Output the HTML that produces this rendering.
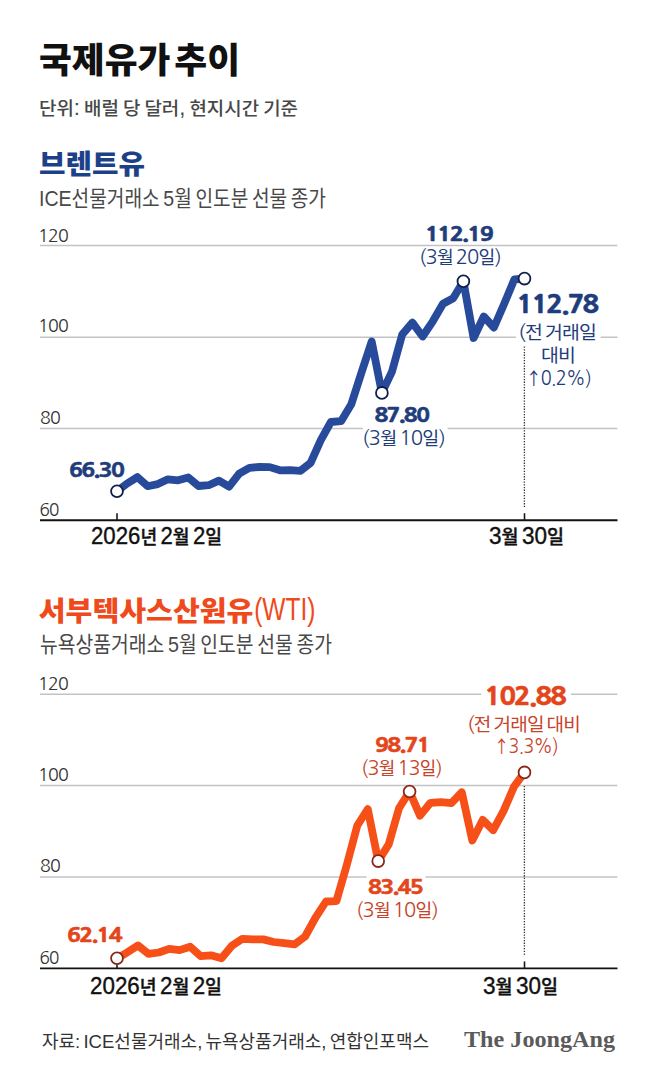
<!DOCTYPE html>
<html lang="ko"><head><meta charset="utf-8"><title>국제유가 추이</title>
<style>html,body{margin:0;padding:0;background:#fff;width:658px;height:1081px;overflow:hidden}svg{display:block}</style>
</head><body>
<svg width="658" height="1081" viewBox="0 0 658 1081"><rect width="658" height="1081" fill="#fff"/><line x1="40" y1="245.6" x2="617.5" y2="245.6" stroke="#c3c3c3" stroke-width="1.5"/><line x1="40" y1="337.3" x2="617.5" y2="337.3" stroke="#c3c3c3" stroke-width="1.5"/><line x1="40" y1="428.6" x2="617.5" y2="428.6" stroke="#c3c3c3" stroke-width="1.5"/><line x1="40" y1="694.3" x2="617.5" y2="694.3" stroke="#c3c3c3" stroke-width="1.5"/><line x1="40" y1="785.5" x2="617.5" y2="785.5" stroke="#c3c3c3" stroke-width="1.5"/><line x1="40" y1="876.9" x2="617.5" y2="876.9" stroke="#c3c3c3" stroke-width="1.5"/><line x1="524.4" y1="346.5" x2="524.4" y2="507.5" stroke="#333" stroke-width="1.3" stroke-dasharray="1.3 1.4"/><line x1="524.4" y1="786" x2="524.4" y2="956" stroke="#333" stroke-width="1.3" stroke-dasharray="1.3 1.4"/><line x1="40" y1="520.2" x2="617.5" y2="520.2" stroke="#111" stroke-width="1.9"/><line x1="117" y1="513.2" x2="117" y2="520.2" stroke="#1a1a1a" stroke-width="1.6"/><line x1="524.5" y1="513.2" x2="524.5" y2="520.2" stroke="#1a1a1a" stroke-width="1.6"/><line x1="40" y1="968.4" x2="617.5" y2="968.4" stroke="#111" stroke-width="1.9"/><line x1="117" y1="961.4" x2="117" y2="968.4" stroke="#1a1a1a" stroke-width="1.6"/><line x1="524.5" y1="961.4" x2="524.5" y2="968.4" stroke="#1a1a1a" stroke-width="1.6"/><rect x="516" y="335.5" width="84.7" height="4.0" fill="#fff"/><rect x="481.3" y="692.3" width="89.7" height="4.0" fill="#fff"/><rect x="362.8" y="426.8" width="84.8" height="3.8" fill="#fff"/><rect x="366.5" y="875" width="59.0" height="4.0" fill="#fff"/><text id="title" x="39.0" y="73.2" textLength="201.0" lengthAdjust="spacingAndGlyphs" style="font-family:'Liberation Sans','Noto Sans CJK KR',sans-serif;font-size:41.11px;font-weight:900;fill:#111;word-spacing:-7.5px"><tspan style="font-size:35.35px">국제유가</tspan> <tspan style="font-size:35.35px">추이</tspan></text><text id="sub" x="39.0" y="115.1" textLength="259.0" lengthAdjust="spacingAndGlyphs" style="font-family:'Liberation Sans','Noto Sans CJK KR',sans-serif;font-size:21.71px;font-weight:500;fill:#484848;word-spacing:-2px"><tspan style="font-size:18.67px">단위</tspan>: <tspan style="font-size:18.67px">배럴</tspan> <tspan style="font-size:18.67px">당</tspan> <tspan style="font-size:18.67px">달러</tspan>, <tspan style="font-size:18.67px">현지시간</tspan> <tspan style="font-size:18.67px">기준</tspan></text><text id="brent" x="39.0" y="173.85" textLength="106.0" lengthAdjust="spacingAndGlyphs" style="font-family:'Liberation Sans','Noto Sans CJK KR',sans-serif;font-size:31.94px;font-weight:900;fill:#1d4189"><tspan style="font-size:27.47px">브렌트유</tspan></text><text id="brentsub" x="39.0" y="205.6" textLength="287.0" lengthAdjust="spacingAndGlyphs" style="font-family:'Liberation Sans','Noto Sans CJK KR',sans-serif;font-size:21.5px;font-weight:400;fill:#484848;word-spacing:-2px">ICE<tspan style="font-size:21.07px">선물거래소</tspan> 5<tspan style="font-size:21.07px">월</tspan> <tspan style="font-size:21.07px">인도분</tspan> <tspan style="font-size:21.07px">선물</tspan> <tspan style="font-size:21.07px">종가</tspan></text><text id="b120" x="38.0" y="241.8" textLength="30.0" lengthAdjust="spacingAndGlyphs" style="font-family:'NanumGothic','Liberation Sans',sans-serif;font-size:17.8px;font-weight:400;fill:#333333;letter-spacing:-0.8px">120</text><text id="b100" x="38.0" y="332.0" textLength="30.0" lengthAdjust="spacingAndGlyphs" style="font-family:'NanumGothic','Liberation Sans',sans-serif;font-size:17.8px;font-weight:400;fill:#333333;letter-spacing:-0.8px">100</text><text id="b80" x="40.0" y="424.0" textLength="20.0" lengthAdjust="spacingAndGlyphs" style="font-family:'NanumGothic','Liberation Sans',sans-serif;font-size:17.8px;font-weight:400;fill:#333333;letter-spacing:-0.8px">80</text><text id="b60" x="39.4" y="516.3" textLength="19.2" lengthAdjust="spacingAndGlyphs" style="font-family:'NanumGothic','Liberation Sans',sans-serif;font-size:17.8px;font-weight:400;fill:#333333;letter-spacing:-0.8px">60</text><text id="bx1" x="91.0" y="544.45" textLength="131.0" lengthAdjust="spacingAndGlyphs" style="font-family:'Liberation Sans','Noto Sans CJK KR',sans-serif;font-size:23.4px;font-weight:500;fill:#111111;stroke:#111111;stroke-width:0.4px;stroke-linejoin:round;word-spacing:-3px">2026<tspan style="font-size:19.19px">년</tspan> 2<tspan style="font-size:19.19px">월</tspan> 2<tspan style="font-size:19.19px">일</tspan></text><text id="bx2" x="489.0" y="544.4" textLength="75.0" lengthAdjust="spacingAndGlyphs" style="font-family:'Liberation Sans','Noto Sans CJK KR',sans-serif;font-size:23.4px;font-weight:500;fill:#111111;stroke:#111111;stroke-width:0.4px;stroke-linejoin:round;word-spacing:-3px">3<tspan style="font-size:19.19px">월</tspan> 30<tspan style="font-size:19.19px">일</tspan></text><text id="b6630" x="69" y="476.55" textLength="54.0" lengthAdjust="spacingAndGlyphs" style="font-family:'NanumGothic','Liberation Sans',sans-serif;font-size:19.6px;font-weight:800;fill:#1f3d7c;stroke:#1f3d7c;stroke-width:0.5px;stroke-linejoin:round;letter-spacing:-1.5px">66.30</text><text id="b11219" x="425.0" y="240.8" textLength="67.0" lengthAdjust="spacingAndGlyphs" style="font-family:'NanumGothic','Liberation Sans',sans-serif;font-size:19.6px;font-weight:800;fill:#1f3d7c;stroke:#1f3d7c;stroke-width:0.5px;stroke-linejoin:round;letter-spacing:-1.5px">112.19</text><text id="b0320" x="419.0" y="264.3" textLength="82.0" lengthAdjust="spacingAndGlyphs" style="font-family:'NanumGothic','Liberation Sans',sans-serif;font-size:20px;font-weight:400;fill:#1f3d7c;word-spacing:-2px;letter-spacing:-0.8px">(3<tspan style="font-size:18.00px;font-family:'Noto Sans CJK KR',sans-serif">월</tspan> 20<tspan style="font-size:18.00px;font-family:'Noto Sans CJK KR',sans-serif">일</tspan>)</text><text id="b8780" x="374.5" y="421.95" textLength="53.5" lengthAdjust="spacingAndGlyphs" style="font-family:'NanumGothic','Liberation Sans',sans-serif;font-size:19.6px;font-weight:800;fill:#1f3d7c;stroke:#1f3d7c;stroke-width:0.5px;stroke-linejoin:round;letter-spacing:-1.5px">87.80</text><text id="b0310" x="362.0" y="444.55" textLength="83.0" lengthAdjust="spacingAndGlyphs" style="font-family:'NanumGothic','Liberation Sans',sans-serif;font-size:20px;font-weight:400;fill:#1f3d7c;word-spacing:-2px;letter-spacing:-0.8px">(3<tspan style="font-size:18.00px;font-family:'Noto Sans CJK KR',sans-serif">월</tspan> 10<tspan style="font-size:18.00px;font-family:'Noto Sans CJK KR',sans-serif">일</tspan>)</text><text id="b11278" x="516.5" y="312.8" textLength="81.0" lengthAdjust="spacingAndGlyphs" style="font-family:'NanumGothic','Liberation Sans',sans-serif;font-size:23.6px;font-weight:800;fill:#1f3d7c;stroke:#1f3d7c;stroke-width:0.5px;stroke-linejoin:round;letter-spacing:-1.5px">112.78</text><text id="bcmp1" x="518" y="339.1" textLength="78.0" lengthAdjust="spacingAndGlyphs" style="font-family:'NanumGothic','Liberation Sans',sans-serif;font-size:20px;font-weight:400;fill:#1f3d7c;word-spacing:-2px;letter-spacing:-0.8px">(<tspan style="font-size:18.00px;font-family:'Noto Sans CJK KR',sans-serif">전</tspan> <tspan style="font-size:18.00px;font-family:'Noto Sans CJK KR',sans-serif">거래일</tspan></text><text id="bcmp2" x="541.0" y="362.2" textLength="34.0" lengthAdjust="spacingAndGlyphs" style="font-family:'NanumGothic','Liberation Sans',sans-serif;font-size:20px;font-weight:400;fill:#1f3d7c;letter-spacing:-0.8px"><tspan style="font-size:18.00px;font-family:'Noto Sans CJK KR',sans-serif">대비</tspan></text><text id="bcmp3" x="526.0" y="384.6" textLength="65.0" lengthAdjust="spacingAndGlyphs" style="font-family:'NanumGothic','Liberation Sans',sans-serif;font-size:20px;font-weight:400;fill:#1f3d7c;letter-spacing:-0.8px"><tspan style="font-family:'Noto Sans CJK KR',sans-serif;font-size:17.20px">↑</tspan>0.2%)</text><text id="wti" x="38.8" y="620.5" textLength="214.6" lengthAdjust="spacingAndGlyphs" style="font-family:'Liberation Sans','Noto Sans CJK KR',sans-serif;font-size:27.33px;font-weight:900;fill:#ef4a1c"><tspan style="font-size:27.33px">서부텍사스산원유</tspan></text><text id="wti2" x="254.2" y="620.4" textLength="61.2" lengthAdjust="spacingAndGlyphs" style="font-family:'Liberation Sans','Noto Sans CJK KR',sans-serif;font-size:30.6px;font-weight:400;fill:#ef4a1c">(WTI)</text><text id="wtisub" x="40.0" y="651.95" textLength="292.0" lengthAdjust="spacingAndGlyphs" style="font-family:'Liberation Sans','Noto Sans CJK KR',sans-serif;font-size:21.5px;font-weight:400;fill:#484848;word-spacing:-2px"><tspan style="font-size:21.07px">뉴욕상품거래소</tspan> 5<tspan style="font-size:21.07px">월</tspan> <tspan style="font-size:21.07px">인도분</tspan> <tspan style="font-size:21.07px">선물</tspan> <tspan style="font-size:21.07px">종가</tspan></text><text id="w120" x="38.0" y="689.65" textLength="30.0" lengthAdjust="spacingAndGlyphs" style="font-family:'NanumGothic','Liberation Sans',sans-serif;font-size:17.8px;font-weight:400;fill:#333333;letter-spacing:-0.8px">120</text><text id="w100" x="38.0" y="780.8" textLength="30.0" lengthAdjust="spacingAndGlyphs" style="font-family:'NanumGothic','Liberation Sans',sans-serif;font-size:17.8px;font-weight:400;fill:#333333;letter-spacing:-0.8px">100</text><text id="w80" x="40.0" y="872.0" textLength="20.0" lengthAdjust="spacingAndGlyphs" style="font-family:'NanumGothic','Liberation Sans',sans-serif;font-size:17.8px;font-weight:400;fill:#333333;letter-spacing:-0.8px">80</text><text id="w60" x="39.4" y="963.95" textLength="19.2" lengthAdjust="spacingAndGlyphs" style="font-family:'NanumGothic','Liberation Sans',sans-serif;font-size:17.8px;font-weight:400;fill:#333333;letter-spacing:-0.8px">60</text><text id="w6214" x="67.0" y="941.5" textLength="54.0" lengthAdjust="spacingAndGlyphs" style="font-family:'NanumGothic','Liberation Sans',sans-serif;font-size:19.6px;font-weight:800;fill:#e4461b;stroke:#e4461b;stroke-width:0.5px;stroke-linejoin:round;letter-spacing:-1.5px">62.14</text><text id="w9871" x="375.0" y="751.65" textLength="54.0" lengthAdjust="spacingAndGlyphs" style="font-family:'NanumGothic','Liberation Sans',sans-serif;font-size:19.6px;font-weight:800;fill:#e4461b;stroke:#e4461b;stroke-width:0.5px;stroke-linejoin:round;letter-spacing:-1.5px">98.71</text><text id="w0313" x="361.0" y="774.65" textLength="81.0" lengthAdjust="spacingAndGlyphs" style="font-family:'NanumGothic','Liberation Sans',sans-serif;font-size:20px;font-weight:400;fill:#c8432a;word-spacing:-2px;letter-spacing:-0.8px">(3<tspan style="font-size:18.00px;font-family:'Noto Sans CJK KR',sans-serif">월</tspan> 13<tspan style="font-size:18.00px;font-family:'Noto Sans CJK KR',sans-serif">일</tspan>)</text><text id="w8345" x="368.0" y="893.65" textLength="54.0" lengthAdjust="spacingAndGlyphs" style="font-family:'NanumGothic','Liberation Sans',sans-serif;font-size:19.6px;font-weight:800;fill:#e4461b;stroke:#e4461b;stroke-width:0.5px;stroke-linejoin:round;letter-spacing:-1.5px">83.45</text><text id="w0310" x="356.0" y="916.65" textLength="82.0" lengthAdjust="spacingAndGlyphs" style="font-family:'NanumGothic','Liberation Sans',sans-serif;font-size:20px;font-weight:400;fill:#c8432a;word-spacing:-2px;letter-spacing:-0.8px">(3<tspan style="font-size:18.00px;font-family:'Noto Sans CJK KR',sans-serif">월</tspan> 10<tspan style="font-size:18.00px;font-family:'Noto Sans CJK KR',sans-serif">일</tspan>)</text><text id="w10288" x="484.5" y="705.3" textLength="80.5" lengthAdjust="spacingAndGlyphs" style="font-family:'NanumGothic','Liberation Sans',sans-serif;font-size:23.6px;font-weight:800;fill:#e4461b;stroke:#e4461b;stroke-width:0.5px;stroke-linejoin:round;letter-spacing:-1.5px">102.88</text><text id="wcmp1" x="467.0" y="730.95" textLength="113.0" lengthAdjust="spacingAndGlyphs" style="font-family:'NanumGothic','Liberation Sans',sans-serif;font-size:20px;font-weight:400;fill:#c8432a;word-spacing:-2px;letter-spacing:-0.8px">(<tspan style="font-size:18.00px;font-family:'Noto Sans CJK KR',sans-serif">전</tspan> <tspan style="font-size:18.00px;font-family:'Noto Sans CJK KR',sans-serif">거래일</tspan> <tspan style="font-size:18.00px;font-family:'Noto Sans CJK KR',sans-serif">대비</tspan></text><text id="wcmp2" x="494.0" y="753.4" textLength="64.0" lengthAdjust="spacingAndGlyphs" style="font-family:'NanumGothic','Liberation Sans',sans-serif;font-size:20px;font-weight:400;fill:#c8432a;letter-spacing:-0.8px"><tspan style="font-family:'Noto Sans CJK KR',sans-serif;font-size:17.20px">↑</tspan>3.3%)</text><text id="wx1" x="90.0" y="994.1" textLength="132.0" lengthAdjust="spacingAndGlyphs" style="font-family:'Liberation Sans','Noto Sans CJK KR',sans-serif;font-size:23.4px;font-weight:500;fill:#111111;stroke:#111111;stroke-width:0.4px;stroke-linejoin:round;word-spacing:-3px">2026<tspan style="font-size:19.19px">년</tspan> 2<tspan style="font-size:19.19px">월</tspan> 2<tspan style="font-size:19.19px">일</tspan></text><text id="wx2" x="483.0" y="993.7" textLength="75.0" lengthAdjust="spacingAndGlyphs" style="font-family:'Liberation Sans','Noto Sans CJK KR',sans-serif;font-size:23.4px;font-weight:500;fill:#111111;stroke:#111111;stroke-width:0.4px;stroke-linejoin:round;word-spacing:-3px">3<tspan style="font-size:19.19px">월</tspan> 30<tspan style="font-size:19.19px">일</tspan></text><text id="foot" x="42.0" y="1048.15" textLength="387.0" lengthAdjust="spacingAndGlyphs" style="font-family:'Liberation Sans','Noto Sans CJK KR',sans-serif;font-size:18.7px;font-weight:400;fill:#333;word-spacing:-2px"><tspan style="font-size:18.14px">자료</tspan>: ICE<tspan style="font-size:18.14px">선물거래소</tspan>, <tspan style="font-size:18.14px">뉴욕상품거래소</tspan>, <tspan style="font-size:18.14px">연합인포맥스</tspan></text><text id="logo" x="464.0" y="1046.55" textLength="151.0" lengthAdjust="spacingAndGlyphs" style="font-family:'Liberation Serif',serif;font-size:22.55px;font-weight:700;fill:#5a5a5a">The JoongAng</text><polyline points="117.0,491.2 127.2,483.5 137.4,477.1 147.6,486.2 157.8,484.1 167.9,479.3 178.1,480.3 188.3,477.4 198.5,486.0 208.7,485.2 218.9,480.6 229.1,486.6 239.2,473.6 249.4,467.8 259.6,467.0 269.8,467.1 280.0,470.3 290.2,470.2 300.4,470.8 310.6,462.9 320.8,440.1 330.9,422.0 341.1,421.2 351.3,404.2 361.5,372.5 371.7,341.5 381.9,392.9 392.1,371.3 402.2,334.5 412.4,322.6 422.6,336.5 432.8,321.3 443.0,303.7 453.2,298.2 463.4,281.3 473.6,338.0 483.8,316.5 493.9,327.5 504.1,304.0 514.3,279.5 524.5,278.6" fill="none" stroke="#284a9a" stroke-width="7.8" stroke-linejoin="round" stroke-linecap="round"/><circle cx="117.0" cy="491.2" r="5.9" fill="#fff" stroke="#111f48" stroke-width="1.8"/><circle cx="381.9" cy="392.9" r="5.9" fill="#fff" stroke="#111f48" stroke-width="1.8"/><circle cx="463.4" cy="281.3" r="5.9" fill="#fff" stroke="#111f48" stroke-width="1.8"/><circle cx="524.5" cy="278.6" r="5.9" fill="#fff" stroke="#111f48" stroke-width="1.8"/><polyline points="117.0,958.3 127.4,952.3 137.9,945.4 148.3,953.8 158.8,952.5 169.2,948.8 179.7,950.1 190.1,946.7 200.6,956.1 211.0,955.3 221.5,958.3 231.9,945.8 242.4,938.8 252.8,939.4 263.3,939.4 273.7,942.0 284.2,943.2 294.6,944.4 305.1,936.5 315.5,917.7 326.0,901.5 336.4,901.1 346.9,864.5 357.3,825.5 367.8,809.2 378.2,861.1 388.7,844.4 399.1,808.0 409.6,791.5 420.0,815.6 430.5,802.8 440.9,802.2 451.4,803.1 461.8,792.3 472.3,840.5 482.7,819.9 493.2,830.2 503.6,810.9 514.1,786.5 524.5,772.4" fill="none" stroke="#f64f17" stroke-width="7.8" stroke-linejoin="round" stroke-linecap="round"/><circle cx="117.0" cy="958.3" r="5.9" fill="#fff" stroke="#8a2616" stroke-width="1.8"/><circle cx="378.2" cy="861.1" r="5.9" fill="#fff" stroke="#8a2616" stroke-width="1.8"/><circle cx="409.6" cy="791.5" r="5.9" fill="#fff" stroke="#8a2616" stroke-width="1.8"/><circle cx="524.5" cy="772.4" r="5.9" fill="#fff" stroke="#8a2616" stroke-width="1.8"/></svg>
</body></html>
